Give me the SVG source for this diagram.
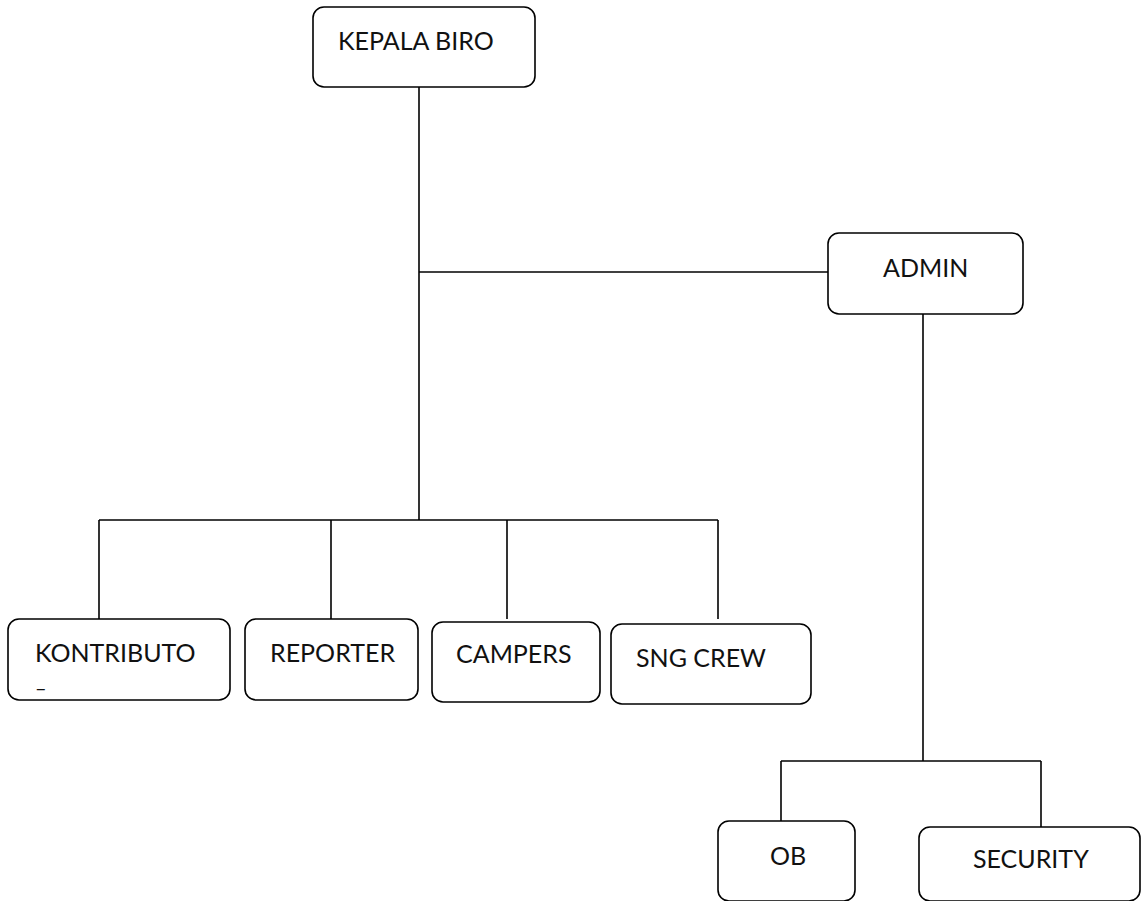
<svg xmlns="http://www.w3.org/2000/svg" width="1144" height="901" viewBox="0 0 1144 901">
<style>
.box{fill:#fff;stroke:#000;stroke-width:1.6}
.lbl{font-family:Lato,"Open Sans",sans-serif;font-size:25px;fill:#111}
.conn line{stroke:#000;stroke-width:1.6}
</style>
<rect width="1144" height="901" fill="#fff"/>
<g class="conn">
<line x1="419" y1="87" x2="419" y2="520"/>
<line x1="419" y1="272" x2="828" y2="272"/>
<line x1="99" y1="520" x2="718" y2="520"/>
<line x1="99" y1="520" x2="99" y2="619"/>
<line x1="331" y1="520" x2="331" y2="619"/>
<line x1="507" y1="520" x2="507" y2="619"/>
<line x1="718" y1="520" x2="718" y2="619"/>
<line x1="923" y1="314" x2="923" y2="761"/>
<line x1="781" y1="761" x2="1041" y2="761"/>
<line x1="781" y1="761" x2="781" y2="821"/>
<line x1="1041" y1="761" x2="1041" y2="828"/>
</g>
<g id="kepala-biro"><rect class="box" x="313" y="7" width="222" height="80" rx="11"/><text class="lbl" x="338" y="50">KEPALA BIRO</text></g>
<g id="admin"><rect class="box" x="828" y="233" width="195" height="81" rx="11"/><text class="lbl" x="883" y="277">ADMIN</text></g>
<g id="kontributor"><rect class="box" x="8" y="619" width="222" height="81" rx="11"/><text class="lbl" x="35" y="662">KONTRIBUTO</text><text class="lbl" x="35" y="695" style="font-size:20px">–</text></g>
<g id="reporter"><rect class="box" x="245" y="619" width="173" height="81" rx="11"/><text class="lbl" x="270" y="662">REPORTER</text></g>
<g id="campers"><rect class="box" x="432" y="622" width="168" height="80" rx="11"/><text class="lbl" x="456" y="663">CAMPERS</text></g>
<g id="sng-crew"><rect class="box" x="611" y="624" width="200" height="80" rx="11"/><text class="lbl" x="636" y="667">SNG CREW</text></g>
<g id="ob"><rect class="box" x="718" y="821" width="137" height="80" rx="11"/><text class="lbl" x="770" y="865">OB</text></g>
<g id="security"><rect class="box" x="919" y="827" width="221" height="74" rx="11"/><text class="lbl" x="973" y="868">SECURITY</text></g>
</svg>
